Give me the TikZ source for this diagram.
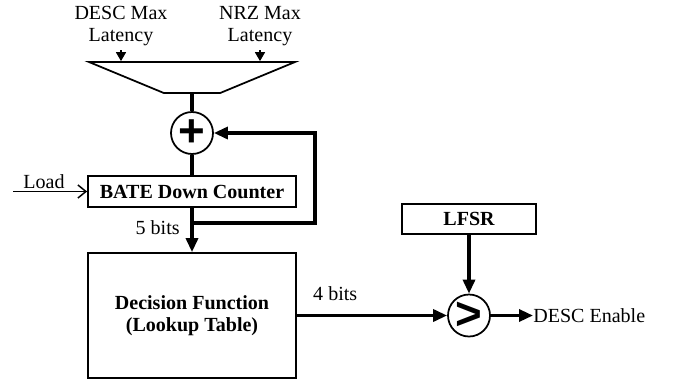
\documentclass[tikz,border=0pt]{standalone}
\usepackage{fontspec}
\setmainfont{Liberation Serif}
\newfontfamily\symfont{Liberation Sans}
\usetikzlibrary{arrows.meta,positioning,shapes.geometric,calc}

\begin{document}
\begin{tikzpicture}[
  x=1mm,y=1mm,
  font=\fontsize{11.4}{12.6}\selectfont,
  blk/.style={rectangle,draw,line width=0.35mm,align=center,inner sep=0pt,
              font=\fontsize{11.4}{12.6}\selectfont\bfseries},
  ring/.style={circle,draw,line width=0.35mm,minimum size=8.4mm,inner sep=0pt},
  sym/.style={inner sep=0pt,font=\fontsize{26}{26}\selectfont\symfont\bfseries},
  bus/.style={line width=0.65mm},
  wire/.style={line width=0.3mm},
  arrB/.style={-{Triangle[length=2.8mm,width=2.4mm]}},
  arrS/.style={-{Triangle[length=1.8mm,width=2mm]}},
  lbl/.style={inner sep=0pt}
]
\useasboundingbox (0,0) rectangle (135.2,77);

% --- Latency select
\node[trapezium,draw,line width=0.35mm,shape border rotate=180,
      trapezium stretches=true,trapezium left angle=37,trapezium right angle=37,
      minimum width=41.2mm,minimum height=6.2mm,inner sep=1pt] (mux) at (38.4,61.5) {};
\node[align=center,anchor=south,inner ysep=0.8mm] (latD) at (24.2,67) {DESC Max\\Latency};
\node[align=center,anchor=south,inner ysep=0.8mm] (latN) at (52,67) {NRZ Max\\Latency};
\draw[wire,arrS] (latD.south) -- (latD.south |- mux.north);
\draw[wire,arrS] (latN.south) -- (latN.south |- mux.north);

% --- Counter loop
\node[ring,label={[sym]center:+}] (add) at (38.4,50.4) {};
\node[blk,minimum width=41.6mm,minimum height=6.2mm] (cnt) at (38.4,38.7) {BATE Down Counter};
\coordinate (jn) at (38.4,32.4);
\coordinate (fbx) at (63,32.4);
\draw[bus] (mux.south) -- (add.north);
\draw[bus] (add.south) -- (cnt.north);
\draw[bus,arrB] (jn) -- (fbx) |- (add.east);
\coordinate (ld) at (2.6,38.7);
\draw[wire,-{Straight Barb[length=1.6mm,width=2.6mm]}] (ld) -- (cnt.west);
\node[lbl,anchor=base west] (ldl) at (4.6,39.4) {Load};
\node[lbl,anchor=north east] (b5) at ([xshift=-2.4mm,yshift=-2.4mm] cnt.south) {5 bits};

% --- Decision and compare
\node[blk,minimum width=41.6mm,minimum height=25mm] (dec) at (38.4,13.9)
     {Decision Function\\(Lookup Table)};
\draw[bus,arrB] (cnt.south) -- (dec.north);
\node[ring,label={[sym]center:>}] (cmpr) at (93.8,13.9) {};
\node[blk,minimum width=26.8mm,minimum height=6mm] (lfsr) at (93.8,33.2) {LFSR};
\node[lbl,anchor=west] (out) at (106.6,13.9) {DESC Enable};
\draw[bus,arrB] (dec.east) -- (cmpr.west);
\node[lbl,anchor=base west] (b4) at ([xshift=3.2mm,yshift=3.1mm] dec.east) {4 bits};
\draw[bus,arrB] (lfsr.south) -- (cmpr.north);
\draw[bus,arrB] (cmpr.east) -- (out.west);
\end{tikzpicture}
\end{document}
